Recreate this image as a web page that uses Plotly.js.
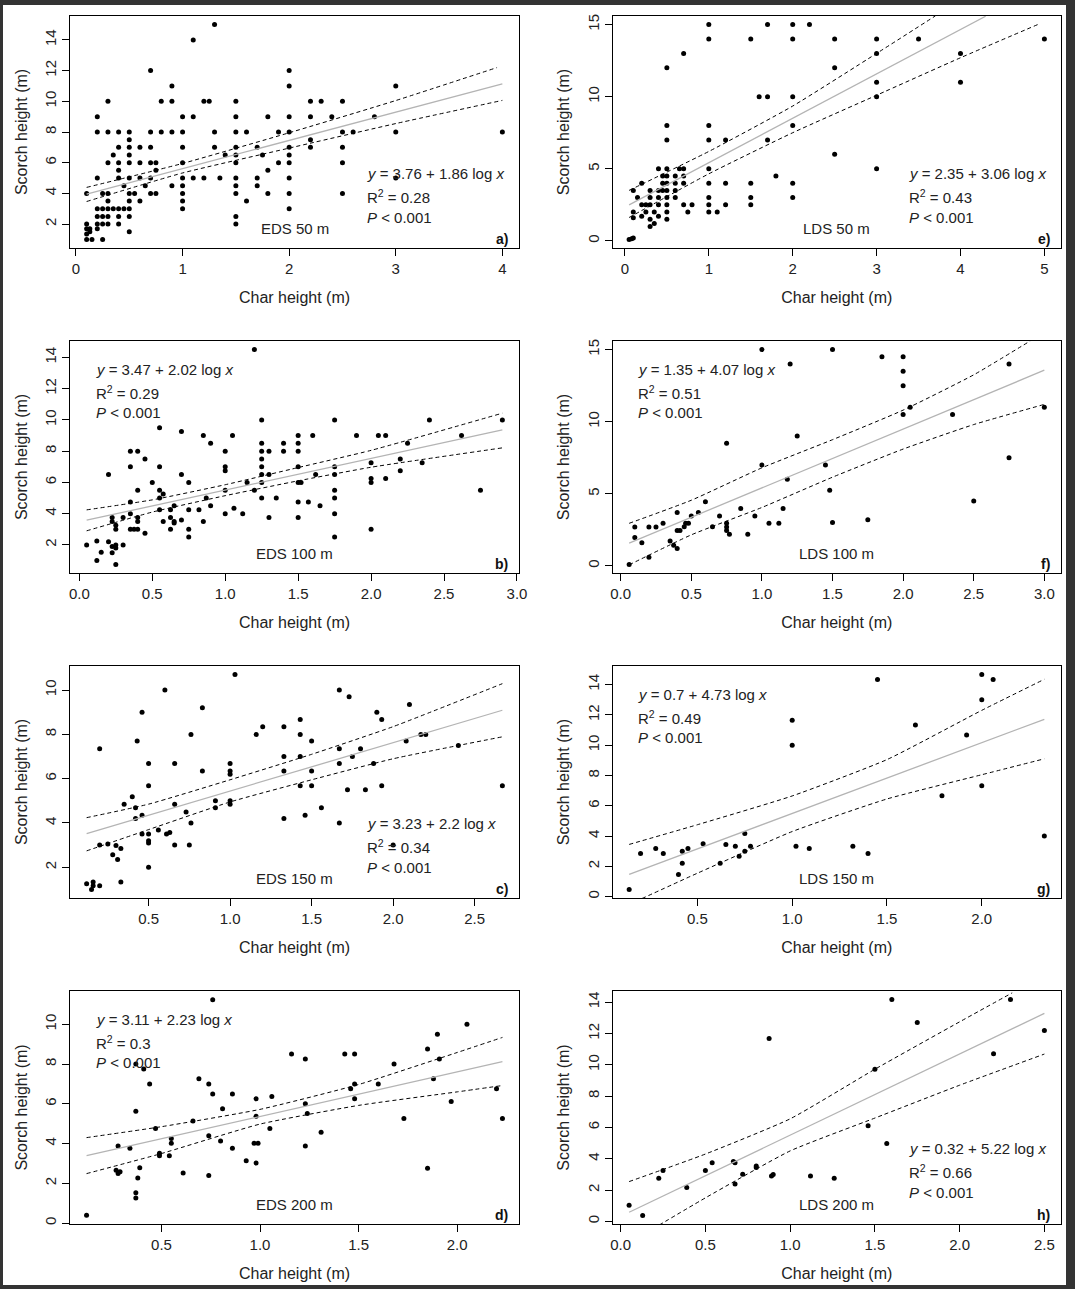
<!DOCTYPE html>
<html>
<head>
<meta charset="utf-8">
<script src="https://cdn.plot.ly/plotly-3.0.1.min.js"></script>
<style>
  html, body { margin: 0; padding: 0; background: #333; }
  #fig { width: 1075px; height: 1289px; }
</style>
</head>
<body>
<div id="fig"></div>
<script>
// Scorch height vs char height, eight panels (EDS / LDS at 50-200 m)
// points are [char height, scorch height]

// a) EDS 50 m
var aPts = [[1.3,15],[1.1,14],[0.7,12],[2,12],[0.9,11],[2,11],[3,11],
  [0.3,10],[0.8,10],[0.9,10],[1.2,10],[1.25,10],[1.5,10],[2.2,10],[2.3,10],[2.5,10],
  [0.2,9],[1,9],[1.1,9],[1.5,9],[1.8,9],[2,9],[2.2,9],[2.4,9],[2.8,9],
  [0.2,8],[0.3,8],[0.4,8],[0.5,8],[0.7,8],[0.8,8],[0.9,8],[1,8],[1.3,8],[1.5,8],[1.6,8],[1.9,8],[2,8],[2.5,8],[2.6,8],[3,8],[4,8],
  [0.5,7.5],[2.2,7.5],
  [0.4,7],[0.5,7],[0.6,7],[0.7,7],[1,7],[1.3,7],[1.5,7],[1.7,7],[2,7],[2.2,7],[2.5,7],
  [0.35,6.5],[0.5,6.5],[1.4,6.5],[1.5,6.5],[1.75,6.5],[2,6.5],
  [0.3,6],[0.4,6],[0.5,6],[0.6,6],[0.7,6],[0.75,6],[1,6],[1.5,6],[1.9,6],[2,6],[2.5,6],
  [0.4,5.5],[0.75,5.5],[1.8,5.5],
  [0.2,5],[0.4,5],[0.5,5],[0.6,5],[0.7,5],[1,5],[1.1,5],[1.2,5],[1.35,5],[1.5,5],[1.7,5],[2,5],[3,5],
  [0.45,4.5],[0.65,4.5],[0.9,4.5],[1,4.5],[1.5,4.5],[1.7,4.5],
  [0.1,4],[0.25,4],[0.3,4],[0.5,4],[0.55,4],[0.7,4],[0.75,4],[1,4],[1.5,4],[1.8,4],[2,4],[2.5,4],
  [0.3,3.5],[0.5,3.5],[0.6,3.5],[1,3.5],[1.6,3.5],
  [0.2,3],[0.25,3],[0.3,3],[0.35,3],[0.4,3],[0.45,3],[0.5,3],[1,3],[2,3],
  [0.2,2.5],[0.25,2.5],[0.3,2.5],[0.4,2.5],[0.5,2.5],[1.5,2.5],
  [0.1,2],[0.2,2],[0.25,2],[0.3,2],[0.4,2],[1.5,2],
  [0.1,1.7],[0.13,1.7],[0.2,1.7],[0.13,1.5],[0.5,1.5],[0.1,1.35],
  [0.1,1],[0.15,1],[0.25,1]];
var aFitX = [0.1, 4], aFitY = [3.95, 11.14];
var aUpX = [0.1, 1, 2, 3, 3.95], aUpY = [4.39, 5.95, 7.95, 10.05, 12.2];
var aLoX = [0.1, 1, 2, 3, 4], aLoY = [3.47, 5.33, 6.95, 8.55, 10.06];

// e) LDS 50 m
var ePts = [[1,15],[1.7,15],[2,15],[2.2,15],
  [1,14],[1.5,14],[2,14],[2.5,14],[3,14],[3.5,14],[5,14],
  [0.7,13],[3,13],[4,13],[0.5,12],[2.5,12],[3,11],[4,11],
  [1.6,10],[1.7,10],[2,10],[3,10],[0.5,8],[1,8],[2,8],
  [0.5,7],[1,7],[1.2,7],[1.7,7],[2.5,6],
  [0.4,5],[0.5,5],[0.65,5],[0.7,5],[1,5],[3,5],
  [0.45,4.5],[0.5,4.5],[0.6,4.5],[0.7,4.5],[1.8,4.5],
  [0.2,4],[0.45,4],[0.5,4],[0.6,4],[0.7,4],[1,4],[1.2,4],[1.5,4],[2,4],
  [0.1,3.5],[0.3,3.5],[0.4,3.5],[0.45,3.5],[0.5,3.5],[0.6,3.5],
  [0.15,3],[0.3,3],[0.4,3],[0.5,3],[0.6,3],[1,3],[1.5,3],[2,3],
  [0.2,2.5],[0.25,2.5],[0.3,2.5],[0.4,2.5],[0.5,2.5],[0.7,2.5],[0.8,2.5],[1,2.5],[1.2,2.5],[1.5,2.5],
  [0.1,2],[0.25,2],[0.35,2],[0.5,2],[0.75,2],[1,2],[1.1,2],
  [0.1,1.6],[0.2,1.7],[0.4,1.7],[0.3,1.5],[0.5,1.5],[0.35,1.2],[0.3,1],
  [0.05,0.1],[0.08,0.15],[0.1,0.2]];
var eFitX = [0.05, 4.3], eFitY = [2.5, 15.58];
var eUpX = [0.05, 1, 2, 3, 3.7], eUpY = [3.5, 6.2, 9.35, 13.0, 15.6];
var eLoX = [0.05, 1, 2, 3, 4, 4.92], eLoY = [1.62, 4.65, 7.5, 10.1, 12.7, 15.0];

// b) EDS 100 m
var bPts = [[1.2,14.5],[1.25,10],[0.55,9.5],[0.7,9.25],[0.85,9],[1.05,9],[0.9,8.5],[1.25,8.5],[1.4,8.5],[1.5,9],[1.5,8.5],
  [0.35,8],[0.4,8],[1,8],[1.25,8],[1.3,8],[1.4,8],[1.5,8],[0.45,7.5],[1.25,7.5],
  [0.35,7],[0.55,7],[1,7],[1.25,7],[1.5,7],[1,6.75],[0.2,6.5],[0.7,6.5],[1.25,6.5],[1.3,6.5],
  [0.5,6],[0.75,6],[1.15,6],[1.25,6],[1.2,5.5],[1.25,5],[1.35,5],[1.3,3.75],[1.5,3.75],[1.5,4.75],[1.57,4.75],
  [1.5,6],[1.52,6],[1.62,6.5],[1.65,4.5],[1.6,9],
  [1.75,10],[1.75,7],[1.75,6.5],[1.75,5.5],[1.75,5],[1.75,4],[1.75,2.5],
  [1.9,9],[2,7.25],[2,6.25],[2,6],[2,3],[2.05,9],[2.1,9],[2.1,6.25],[2.2,7.5],[2.2,6.75],[2.25,8.5],[2.35,7.25],
  [2.4,10],[2.62,9],[2.75,5.5],[2.9,10],
  [0.35,4.75],[0.4,5.5],[0.55,5.5],[0.575,5.25],[0.55,5],[1,5.5],[1.06,4.35],[1.12,4],[1,4],[0.9,4.5],[0.87,5],
  [0.75,4.25],[0.82,4.25],[0.7,3.6],[0.75,3],[0.75,2.5],[0.85,3.5],
  [0.625,4.25],[0.625,3.75],[0.625,3],[0.65,4.5],[0.65,3.5],[0.65,3.4],[0.575,3.5],[0.55,4.25],
  [0.35,4],[0.4,3.75],[0.4,3.5],[0.35,3],[0.375,3],[0.4,3],[0.45,2.75],
  [0.225,3.75],[0.225,3.5],[0.25,3.25],[0.25,3],[0.3,3.75],
  [0.05,2],[0.12,2.25],[0.15,1.53],[0.2,2.2],[0.225,1.9],[0.225,1.5],[0.25,2],[0.25,1.8],[0.3,2],[0.12,1],[0.25,0.75]];
var bFitX = [0.05, 2.9], bFitY = [3.58, 9.36];
var bUpX = [0.05, 0.5, 1, 1.5, 2, 2.9], bUpY = [4.24, 4.88, 5.85, 6.95, 8.05, 10.43];
var bLoX = [0.05, 0.5, 1, 1.5, 2, 2.9], bLoY = [2.9, 4.1, 5.15, 6.1, 6.97, 8.21];

// f) LDS 100 m
var fPts = [[1,15],[1.5,15],[1.2,14],[1.85,14.5],[2,14.5],[2,13.5],[2,12.5],[2,10.5],[2.05,11],[2.35,10.5],
  [2.75,14],[2.75,7.5],[3,11],[2.5,4.5],[1.25,9],[0.75,8.5],[1,7],[1.45,7],[1.18,6],[1.48,5.25],[1.5,3],[1.75,3.2],
  [0.6,4.45],[0.55,3.7],[0.5,3.45],[0.7,3.45],[0.75,2.95],[0.75,2.7],[0.75,2.45],[0.77,2.2],[0.85,3.97],[0.95,3.45],
  [0.9,2.2],[1.05,2.95],[1.12,2.95],[1.15,3.97],[0.65,2.72],
  [0.4,3.7],[0.3,2.95],[0.2,2.7],[0.25,2.7],[0.1,2.7],[0.1,1.96],[0.15,1.6],[0.2,0.6],[0.06,0.1],
  [0.35,1.73],[0.375,1.43],[0.4,1.2],[0.4,2.45],[0.42,2.45],[0.45,2.72],[0.46,2.95],[0.48,2.95]];
var fFitX = [0.06, 3], fFitY = [1.57, 13.57];
var fUpX = [0.06, 0.5, 1, 1.5, 2, 2.5, 2.9], fUpY = [2.95, 4.55, 6.8, 8.75, 10.8, 13.25, 15.6];
var fLoX = [0.06, 0.5, 1, 1.5, 2, 2.5, 3], fLoY = [0.07, 2.15, 4.05, 6.15, 8.1, 9.8, 11.2];

// c) EDS 150 m
var cPts = [[1.03,10.7],[0.6,10],[1.67,10],[1.73,9.7],[0.46,9],[0.83,9.2],[1.9,9],[2.1,9.35],[1.93,8.67],[1.43,8.67],[1.2,8.35],[1.33,8.35],
  [0.2,7.35],[0.43,7.7],[0.76,8],[1.16,8],[1.43,8],[2.17,8],[2.2,8],[1.5,7.7],[2.08,7.7],[1.8,7.35],[1.67,7.35],[2.4,7.5],
  [1.33,7],[1.43,7],[1.75,7],[0.5,6.68],[0.66,6.68],[1,6.68],[1.67,6.68],[1.88,6.68],
  [0.83,6.35],[1,6.35],[1,6.2],[1.33,6.35],[1.5,6.35],
  [0.5,5.68],[1.43,5.68],[1.5,5.68],[1.72,5.5],[1.83,5.5],[1.93,5.68],[2.67,5.68],
  [0.4,5.18],[0.35,4.85],[0.42,4.69],[0.42,4.2],[0.46,4.35],[0.66,4.85],[0.91,5],[0.91,4.69],[1,5],[1,4.85],[0.73,4.5],[0.76,4],
  [1.56,4.69],[1.46,4.35],[1.33,4.2],[1.67,4],
  [0.46,3.5],[0.5,3.5],[0.5,3.2],[0.5,3.1],[0.56,3.68],[0.61,3.5],[0.63,3.57],[0.66,3],[0.75,3],
  [0.2,3],[0.25,3.05],[0.3,2.98],[0.33,2.85],[0.28,2.57],[0.31,2.35],[0.5,2],[0.33,1.34],
  [0.12,1.25],[0.16,1.34],[0.16,1.17],[0.15,1],[0.2,1.17],[2,3]];
var cFitX = [0.12, 2.67], cFitY = [3.52, 9.09];
var cUpX = [0.12, 0.5, 1, 1.5, 2, 2.67], cUpY = [4.24, 4.85, 5.95, 7.1, 8.35, 10.29];
var cLoX = [0.12, 0.5, 1, 1.5, 2, 2.67], cLoY = [2.74, 3.7, 4.95, 5.95, 6.9, 7.89];

// g) LDS 150 m
var gPts = [[2,14.66],[1.45,14.33],[2.06,14.33],[2,13],[1,11.65],[1,10],[1.65,11.33],[1.92,10.67],[1.79,6.67],[2,7.33],[2.33,4],
  [0.75,4.17],[0.53,3.5],[0.65,3.45],[0.7,3.33],[0.78,3.33],[0.75,3],[0.72,2.67],[0.62,2.2],[0.45,3.18],[0.42,3],[0.42,2.2],
  [0.4,1.47],[0.28,3.18],[0.32,2.85],[0.2,2.85],[0.14,0.48],[1.02,3.33],[1.09,3.18],[1.32,3.33],[1.4,2.85]];
var gFitX = [0.14, 2.33], gFitY = [1.47, 11.71];
var gUpX = [0.14, 0.5, 1, 1.5, 2, 2.33], gUpY = [3.45, 4.75, 6.65, 9.05, 12.3, 14.35];
var gLoX = [0.14, 0.5, 1, 1.5, 2, 2.33], gLoY = [-0.51, 1.55, 4.3, 6.45, 8.05, 9.1];

// d) EDS 200 m
var dPts = [[0.76,11.24],[2.05,10],[1.9,9.5],[1.85,8.76],[1.91,8.25],[1.16,8.5],[1.23,8.25],[1.43,8.5],[1.48,8.5],[1.68,8],
  [0.37,8],[0.41,7.75],[0.44,7],[0.69,7.26],[0.74,7],[0.76,6.5],[0.86,6.5],[1.6,7],[1.48,7],[1.46,6.76],[1.88,7.26],
  [1.48,6.25],[0.98,6.25],[1.06,6.37],[1.23,6],[1.97,6.12],[2.2,6.76],[2.23,5.26],[1.73,5.26],[0.81,5.75],[0.37,5.63],
  [0.98,5.38],[0.66,5.13],[0.47,4.76],[1.24,5.51],[1.05,4.76],[1.31,4.57],[0.74,4.39],[0.8,4.13],[0.55,4.25],[0.55,4.02],
  [0.97,4.02],[0.99,4.02],[1.23,3.88],[0.86,3.76],[0.34,3.76],[0.28,3.88],[0.49,3.51],[0.49,3.39],[0.54,3.39],[0.93,3.14],
  [0.98,3.02],[0.39,2.79],[0.27,2.66],[0.28,2.49],[0.29,2.59],[0.38,2.27],[0.61,2.52],[0.74,2.39],[0.37,1.53],[0.37,1.26],
  [1.85,2.76],[0.12,0.39]];
var dFitX = [0.12, 2.23], dFitY = [3.39, 8.12];
var dUpX = [0.12, 0.5, 1, 1.5, 2, 2.23], dUpY = [4.3, 4.85, 5.72, 6.97, 8.58, 9.34];
var dLoX = [0.12, 0.5, 1, 1.5, 2, 2.23], dLoY = [2.49, 3.5, 4.98, 5.92, 6.6, 6.92];

// h) LDS 200 m
var hPts = [[0.05,1.03],[0.13,0.38],[0.225,2.76],[0.25,3.25],[0.39,2.16],[0.5,3.25],[0.54,3.74],[0.665,3.83],[0.675,3.74],
  [0.675,2.39],[0.72,3.01],[0.8,3.53],[0.8,3.44],[0.89,2.89],[0.9,3],[0.876,11.69],[1.12,2.89],[1.26,2.76],[1.46,6.11],
  [1.5,9.72],[1.57,4.98],[1.6,14.17],[1.75,12.7],[2.2,10.71],[2.3,14.17],[2.5,12.2]];
var hFitX = [0.05, 2.5], hFitY = [0.58, 13.29];
var hUpX = [0.05, 0.5, 1, 1.5, 2, 2.31], hUpY = [2.54, 4.3, 6.55, 9.72, 12.75, 14.6];
var hLoX = [0.05, 0.5, 1, 1.5, 2, 2.5], hLoY = [-1.38, 1.5, 4.5, 6.6, 8.7, 10.69];

// tick values
var intX4 = [0, 1, 2, 3, 4], intX5 = [0, 1, 2, 3, 4, 5];
var halfX30 = [0, 0.5, 1, 1.5, 2, 2.5, 3], halfX25 = [0, 0.5, 1, 1.5, 2, 2.5];
var halfC = [0.5, 1, 1.5, 2, 2.5], halfG = [0.5, 1, 1.5, 2];
var y2to14 = [2, 4, 6, 8, 10, 12, 14], y0to14 = [0, 2, 4, 6, 8, 10, 12, 14];
var y0to15 = [0, 5, 10, 15], y2to10 = [2, 4, 6, 8, 10], y0to10 = [0, 2, 4, 6, 8, 10];

// regression labels
var eqA = ['3.76', '2.35', '3.47', '1.35', '3.23', '0.7', '3.11', '0.32'];
var eqB = ['1.86', '3.06', '2.02', '4.07', '2.2', '4.73', '2.23', '5.22'];
var r2 = ['0.28', '0.43', '0.29', '0.51', '0.34', '0.49', '0.3', '0.66'];
var sites = ['EDS 50 m', 'LDS 50 m', 'EDS 100 m', 'LDS 100 m', 'EDS 150 m', 'LDS 150 m', 'EDS 200 m', 'LDS 200 m'];
var letters = ['a)', 'e)', 'b)', 'f)', 'c)', 'g)', 'd)', 'h)'];

var FONT = 'Liberation Sans, Arial, Helvetica, sans-serif';
var W = 1075, H = 1289;
var colPx = [[70, 519], [612.5, 1061]];
var rowPx = [[16, 248], [341, 573], [666, 898], [991, 1224]];

var panels = [
  {pts: aPts, fit: [aFitX, aFitY], up: [aUpX, aUpY], lo: [aLoX, aLoY], xr: [-0.056, 4.156], yr: [0.44, 15.56], xt: intX4, yt: y2to14, fmt: 'd', col: 0, row: 0, side: 'r'},
  {pts: ePts, fit: [eFitX, eFitY], up: [eUpX, eUpY], lo: [eLoX, eLoY], xr: [-0.148, 5.198], yr: [-0.496, 15.596], xt: intX5, yt: y0to15, fmt: 'd', col: 1, row: 0, side: 'r'},
  {pts: bPts, fit: [bFitX, bFitY], up: [bUpX, bUpY], lo: [bLoX, bLoY], xr: [-0.064, 3.014], yr: [0.2, 15.05], xt: halfX30, yt: y2to14, fmt: '.1f', col: 0, row: 1, side: 'l'},
  {pts: fPts, fit: [fFitX, fFitY], up: [fUpX, fUpY], lo: [fLoX, fLoY], xr: [-0.058, 3.118], yr: [-0.496, 15.596], xt: halfX30, yt: y0to15, fmt: '.1f', col: 1, row: 1, side: 'l'},
  {pts: cPts, fit: [cFitX, cFitY], up: [cUpX, cUpY], lo: [cLoX, cLoY], xr: [0.018, 2.772], yr: [0.612, 11.088], xt: halfC, yt: y2to10, fmt: '.1f', col: 0, row: 2, side: 'r'},
  {pts: gPts, fit: [gFitX, gFitY], up: [gUpX, gUpY], lo: [gLoX, gLoY], xr: [0.052, 2.418], yr: [-0.087, 15.227], xt: halfG, yt: y0to14, fmt: '.1f', col: 1, row: 2, side: 'l'},
  {pts: dPts, fit: [dFitX, dFitY], up: [dUpX, dUpY], lo: [dLoX, dLoY], xr: [0.036, 2.314], yr: [-0.044, 11.674], xt: halfG, yt: y0to10, fmt: '.1f', col: 0, row: 3, side: 'l'},
  {pts: hPts, fit: [hFitX, hFitY], up: [hUpX, hUpY], lo: [hLoX, hLoY], xr: [-0.048, 2.598], yr: [-0.17, 14.72], xt: halfX25, yt: y0to14, fmt: '.1f', col: 1, row: 3, side: 'r'}
];

var data = [];
var layout = {
  width: W, height: H,
  margin: {l: 0, r: 0, t: 0, b: 0},
  paper_bgcolor: '#333333',
  plot_bgcolor: 'rgba(0,0,0,0)',
  showlegend: false,
  font: {family: FONT, color: '#222', size: 15},
  shapes: [{type: 'rect', xref: 'paper', yref: 'paper', layer: 'below',
    x0: 3 / W, x1: 1066 / W, y0: 4 / H, y1: 1 - 5 / H,
    fillcolor: '#ffffff', line: {width: 0}}],
  annotations: []
};

panels.forEach(function (p, i) {
  var n = i === 0 ? '' : String(i + 1);
  var xa = 'x' + n, ya = 'y' + n;
  var cx = colPx[p.col], ry = rowPx[p.row];
  var boxH = ry[1] - ry[0], boxW = cx[1] - cx[0];

  data.push({x: p.pts.map(function (d) { return d[0]; }), y: p.pts.map(function (d) { return d[1]; }),
    xaxis: xa, yaxis: ya, type: 'scatter', mode: 'markers',
    marker: {color: '#000', size: 5}, cliponaxis: true});
  data.push({x: p.fit[0], y: p.fit[1], xaxis: xa, yaxis: ya, type: 'scatter', mode: 'lines',
    line: {color: '#b4b4b4', width: 1.3}});
  [p.up, p.lo].forEach(function (b) {
    data.push({x: b[0], y: b[1], xaxis: xa, yaxis: ya, type: 'scatter', mode: 'lines',
      line: {color: '#000', width: 1, dash: '4px,3px', shape: 'spline', smoothing: 0.5}});
  });

  var common = {showline: true, mirror: true, linecolor: '#000', linewidth: 1,
    ticks: 'outside', ticklen: 7, tickwidth: 1, tickcolor: '#000',
    showgrid: false, zeroline: false, tickmode: 'array',
    tickfont: {family: FONT, size: 15, color: '#222'}};
  layout['xaxis' + n] = Object.assign({}, common, {
    domain: [cx[0] / W, cx[1] / W], range: p.xr, anchor: ya,
    tickvals: p.xt, tickformat: p.fmt,
    title: {text: 'Char height (m)', font: {family: FONT, size: 16, color: '#222'}, standoff: 15}
  });
  layout['yaxis' + n] = Object.assign({}, common, {
    domain: [1 - ry[1] / H, 1 - ry[0] / H], range: p.yr, anchor: xa,
    tickvals: p.yt, tickformat: 'd', tickangle: -90,
    title: {text: 'Scorch height (m)', font: {family: FONT, size: 16, color: '#222'}, standoff: 10}
  });

  var xr = xa + ' domain', yr = ya + ' domain';
  var ex = p.side === 'r' ? 0.656 : 0.053;
  var offs = p.side === 'r' ? [157, 180, 201] : [28, 51.5, 71.5];
  var lines = ['<i>y</i> = ' + eqA[i] + ' + ' + eqB[i] + ' log <i>x</i>',
    'R<sup>2</sup> = ' + r2[i],
    '<i>P</i> &lt; 0.001'];
  lines.forEach(function (t, k) {
    layout.annotations.push({xref: xr, yref: yr, x: ex, y: 1 - offs[k] / boxH,
      xanchor: 'left', yanchor: 'middle', showarrow: false, text: t,
      font: {family: FONT, size: 15, color: '#222'}});
  });
  layout.annotations.push({xref: xr, yref: yr, x: 0.5, y: 20 / boxH,
    xanchor: 'center', yanchor: 'middle', showarrow: false, text: sites[i],
    font: {family: FONT, size: 15, color: '#222'}});
  layout.annotations.push({xref: xr, yref: yr, x: 1 - 9 / boxW, y: 9 / boxH,
    xanchor: 'right', yanchor: 'middle', showarrow: false, text: '<b>' + letters[i] + '</b>',
    font: {family: FONT, size: 14, color: '#111'}});
});

Plotly.newPlot('fig', data, layout, {displayModeBar: false, staticPlot: true});
</script>
</body>
</html>
